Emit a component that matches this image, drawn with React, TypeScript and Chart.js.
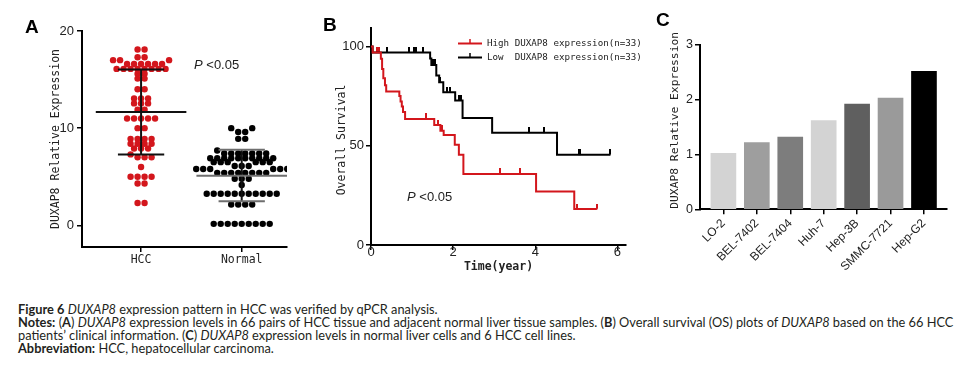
import React, { useEffect, useRef } from 'react';
import { Chart, registerables } from 'chart.js';

Chart.register(...registerables);

// ---------- Panel A data ----------
const groupNames = ['HCC', 'Normal'];
const hccValues = [
  2.3, 2.3, 4.3, 4.3, 5.0, 5.0, 5.0, 5.0, 6.0, 7.0, 7.0, 7.0, 7.3, 7.9, 7.9, 7.9,
  8.4, 8.4, 8.4, 8.4, 8.9, 8.9, 8.9, 8.9, 10.0, 10.0, 11.0, 11.0, 11.0, 11.0, 11.0,
  11.9, 11.9, 12.55, 12.55, 12.55, 13.05, 13.05, 13.05, 14.0, 14.0, 15.1, 15.1,
  15.6, 15.6, 16.1, 16.1, 16.1, 16.1, 16.1, 16.1, 16.1, 16.1,
  16.6, 16.6, 16.6, 16.6, 16.6, 16.6, 17.0, 17.0, 17.0, 17.3, 17.3, 18.1, 18.1,
];
const normalValues = [
  0.15, 0.15, 0.15, 0.15, 0.15, 0.15, 0.15, 0.15, 0.15,
  2.15, 2.15, 2.15, 2.15,
  3.25, 3.25, 3.25, 3.25, 3.25, 3.25, 3.25, 3.25, 3.25, 3.25, 3.25,
  4.15, 4.8, 4.8, 4.8,
  5.4, 5.4, 5.4, 5.4, 5.4, 5.4, 5.4, 5.4,
  5.8, 5.8, 5.8, 5.8, 5.8, 5.8,
  6.1, 6.1, 6.1, 6.5, 6.5, 6.5, 6.5, 6.5, 6.5,
  6.9, 6.9, 6.9, 6.9, 6.9, 6.9, 6.9, 6.9, 6.9, 6.9,
  7.4, 7.4, 7.4, 7.4, 7.4, 7.4, 7.4, 7.7,
  8.9, 8.9, 9.6, 9.6, 10.0, 10.0,
];
const groupMeans = [11.66, 5.1];
const groupSdHigh = [16.05, 7.78];
const groupSdLow = [7.3, 2.47];

// ---------- Panel B data ----------
const highTimes = [0, 0.04, 0.24, 0.27, 0.30, 0.34, 0.37, 0.69, 0.72, 0.75, 0.78, 0.83, 1.54, 1.69, 1.77, 2.04, 2.14, 2.25, 4.02, 4.95, 5.50];
const highSurvival = [100, 96.9, 93.8, 88.7, 84.0, 80.5, 77.3, 75.0, 72.3, 69.8, 67.0, 63.5, 60.4, 57.6, 55.4, 50.5, 45.5, 35.8, 26.9, 18.1, 18.1];
const highCensorTimes = [0.14, 0.20, 1.33, 1.64, 1.74, 3.13, 3.62, 5.02, 5.50];
const highCensorSurvival = [96.9, 96.9, 63.5, 60.4, 57.6, 35.8, 35.8, 18.1, 18.1];
const lowTimes = [0, 0.04, 1.44, 1.47, 1.59, 1.66, 1.76, 2.05, 2.23, 2.95, 4.53, 5.83];
const lowSurvival = [100, 97.0, 93.9, 90.7, 85.4, 82.0, 77.0, 72.8, 64.0, 56.6, 45.5, 45.5];
const lowCensorTimes = [0.38, 0.93, 1.05, 1.10, 1.27, 1.52, 1.55, 1.69, 1.86, 1.92, 2.14, 2.19, 3.84, 4.22, 5.06, 5.10, 5.83];
const lowCensorSurvival = [97, 97, 97, 97, 97, 90.7, 90.7, 82.0, 77.0, 77.0, 72.8, 72.8, 56.6, 56.6, 45.5, 45.5, 45.5];
const survivalLabels = ['High DUXAP8 expression(n=33)', 'Low  DUXAP8 expression(n=33)'];
const survivalTicksX = [0, 2, 4, 6];
const survivalTicksY = [0, 50, 100];

// ---------- Panel C data ----------
const cellLines = ['LO-2', 'BEL-7402', 'BEL-7404', 'Huh-7', 'Hep-3B', 'SMMC-7721', 'Hep-G2'];
const cellExpression = [1.02, 1.22, 1.32, 1.62, 1.92, 2.03, 2.52];
const cellTicksY = [0, 1, 2, 3];

// ---------- styles ----------
const MONO = '"DejaVu Sans Mono", monospace';
const SANS = '"Liberation Sans", Arial, sans-serif';
const RED = '#d3161c';
const barColors = ['#d3d3d3', '#9e9e9e', '#7d7d7d', '#d3d3d3', '#5f5f5f', '#9a9a9a', '#000000'];

function swarmSlots(values: number[], binSize: number): number[] {
  const idx = values.map((_, i) => i).sort((a, b) => values[a] - values[b]);
  const out = new Array(values.length).fill(0);
  let i = 0;
  while (i < idx.length) {
    const start = values[idx[i]];
    let j = i;
    while (j < idx.length && values[idx[j]] - start <= binSize + 1e-9) j++;
    const n = j - i;
    const order: number[] = [];
    if (n % 2 === 1) {
      order.push(0);
      for (let k = 1; order.length < n; k++) { order.push(k); if (order.length < n) order.push(-k); }
    } else {
      for (let k = 0; order.length < n; k++) { order.push(k + 0.5); order.push(-(k + 0.5)); }
    }
    for (let m = 0; m < n; m++) out[idx[i + m]] = order[m];
    i = j;
  }
  return out;
}

function axisStyle() {
  return {
    border: { display: true, color: '#000', width: 2 },
    grid: { display: true, drawOnChartArea: false, drawTicks: true, tickLength: 5, color: '#000', lineWidth: 1.5, offset: false },
  };
}

function PanelA() {
  const ref = useRef<HTMLCanvasElement>(null);
  useEffect(() => {
    const seg = (pts: any[], color: string) => ({
      data: pts, showLine: true, borderColor: color, borderWidth: 2, pointRadius: 0, fill: false,
    });
    const datasets: any[] = [];
    [0, 1].forEach((g) => {
      const cx = g + 1;
      const hColor = g === 0 ? '#111' : '#6e6e6e';
      datasets.push(seg([{ x: cx - 0.45, y: groupMeans[g] }, { x: cx + 0.45, y: groupMeans[g] }], hColor));
      datasets.push(seg([{ x: cx - 0.23, y: groupSdHigh[g] }, { x: cx + 0.23, y: groupSdHigh[g] }], hColor));
      datasets.push(seg([{ x: cx - 0.23, y: groupSdLow[g] }, { x: cx + 0.23, y: groupSdLow[g] }], hColor));
      datasets.push(seg([{ x: cx, y: groupSdLow[g] }, { x: cx, y: groupSdHigh[g] }], '#111'));
    });
    datasets.push({ data: hccValues.map((v) => ({ x: 1, y: v })), backgroundColor: RED, pointRadius: 3.2, borderWidth: 0 });
    datasets.push({ data: normalValues.map((v) => ({ x: 2, y: v })), backgroundColor: '#000', pointRadius: 3.2, borderWidth: 0 });
    const ax = axisStyle();
    const chart = new Chart(ref.current!, {
      type: 'scatter',
      data: { datasets },
      options: {
        animation: false, responsive: false, maintainAspectRatio: false,
        layout: { padding: { left: 0, top: 31, right: 13, bottom: 0 } },
        plugins: { legend: { display: false }, tooltip: { enabled: false } },
        scales: {
          x: {
            type: 'linear', min: 0.413, max: 2.45, ...ax,
            afterBuildTicks: (s: any) => { s.ticks = [{ value: 1 }, { value: 2 }]; },
            afterFit: (s: any) => { s.height = 33; },
            ticks: { callback: (v: any) => groupNames[Math.round(v) - 1], font: { family: MONO, size: 11.5 }, color: '#222', padding: 1, maxRotation: 0 },
          },
          y: {
            type: 'linear', min: -2.23, max: 20, ...ax,
            afterBuildTicks: (s: any) => { s.ticks = [0, 10, 20].map((v) => ({ value: v })); },
            afterFit: (s: any) => { s.width = 82; },
            ticks: { font: { family: SANS, size: 13 }, color: '#222', padding: 3 },
            title: { display: true, text: 'DUXAP8 Relative Expression', font: { family: MONO, size: 11.5 }, color: '#222', padding: { top: 49, bottom: 0 } },
          },
        },
      } as any,
    });
    const xs: any = chart.scales.x;
    const ppu = xs.getPixelForValue(2) - xs.getPixelForValue(1);
    const k = 7.0 / ppu;
    const hOff = swarmSlots(hccValues, 0.45);
    const nOff = swarmSlots(normalValues, 0.45);
    chart.data.datasets[8].data = hccValues.map((v, i) => ({ x: 1 + hOff[i] * k, y: v })) as any;
    chart.data.datasets[9].data = normalValues.map((v, i) => ({ x: 2 + nOff[i] * k, y: v })) as any;
    chart.update();
    return () => chart.destroy();
  }, []);
  return <canvas ref={ref} width={300} height={280} style={{ position: 'absolute', left: 0, top: 0, display: 'block' }} />;
}

function tickImage(color: string) {
  const c = document.createElement('canvas');
  c.width = 2; c.height = 11;
  const g = c.getContext('2d')!;
  g.fillStyle = color;
  g.fillRect(0, 0, 2, 5.5);
  return c;
}

const kmLegend = {
  id: 'kmLegend',
  afterDraw(chart: any) {
    const ctx = chart.ctx;
    ctx.save();
    [0, 1].forEach((di, r) => {
      const ds = chart.data.datasets[di];
      const y = 43.5 + r * 14;
      const x0 = 148, x1 = 172;
      ctx.strokeStyle = ds.borderColor;
      ctx.lineWidth = 2;
      ctx.beginPath(); ctx.moveTo(x0, y); ctx.lineTo(x1, y); ctx.stroke();
      ctx.lineWidth = 1.5;
      ctx.beginPath(); ctx.moveTo((x0 + x1) / 2, y); ctx.lineTo((x0 + x1) / 2, y - 4.5); ctx.stroke();
      ctx.fillStyle = '#222';
      ctx.font = `9.2px ${MONO}`;
      ctx.textBaseline = 'middle';
      ctx.textAlign = 'left';
      ctx.fillText(ds.label, 177, y + 0.5);
    });
    ctx.restore();
  },
};

function PanelB() {
  const ref = useRef<HTMLCanvasElement>(null);
  useEffect(() => {
    const ax = axisStyle();
    const chart = new Chart(ref.current!, {
      type: 'line',
      data: {
        datasets: [
          { label: survivalLabels[0], data: highTimes.map((t, i) => ({ x: t, y: highSurvival[i] })), borderColor: RED, borderWidth: 2, stepped: 'before', pointRadius: 0, fill: false },
          { label: survivalLabels[1], data: lowTimes.map((t, i) => ({ x: t, y: lowSurvival[i] })), borderColor: '#000', borderWidth: 2, stepped: 'before', pointRadius: 0, fill: false },
          { label: 'hc', data: highCensorTimes.map((t, i) => ({ x: t, y: highCensorSurvival[i] })), showLine: false, pointStyle: tickImage(RED), pointRadius: 5, borderWidth: 0 },
          { label: 'lc', data: lowCensorTimes.map((t, i) => ({ x: t, y: lowCensorSurvival[i] })), showLine: false, pointStyle: tickImage('#000'), pointRadius: 5, borderWidth: 0 },
        ],
      },
      options: {
        animation: false, responsive: false, maintainAspectRatio: false,
        layout: { padding: { left: 0, top: 28, right: 24, bottom: 0 } },
        plugins: { legend: { display: false }, tooltip: { enabled: false } },
        scales: {
          x: {
            type: 'linear', min: 0, max: 6.21, ...ax,
            afterBuildTicks: (s: any) => { s.ticks = survivalTicksX.map((v) => ({ value: v })); },
            afterFit: (s: any) => { s.height = 35; },
            ticks: { font: { family: SANS, size: 13 }, color: '#222', padding: -5, maxRotation: 0 },
            title: { display: true, text: 'Time(year)', font: { family: MONO, size: 11.5, weight: 'bold' }, color: '#222', padding: { top: 0, bottom: 5.6 } },
          },
          y: {
            type: 'linear', min: 0, max: 109.3, ...ax,
            afterBuildTicks: (s: any) => { s.ticks = survivalTicksY.map((v) => ({ value: v })); },
            afterFit: (s: any) => { s.width = 61; },
            ticks: { font: { family: SANS, size: 13 }, color: '#222', padding: 2 },
            title: { display: true, text: 'Overall Survival ', font: { family: MONO, size: 11.5 }, color: '#222', padding: { top: 24.8, bottom: 0 } },
          },
        },
      } as any,
      plugins: [kmLegend],
    });
    return () => chart.destroy();
  }, []);
  return <canvas ref={ref} width={340} height={280} style={{ position: 'absolute', left: 310, top: 0, display: 'block' }} />;
}

function PanelC() {
  const ref = useRef<HTMLCanvasElement>(null);
  useEffect(() => {
    const ax = axisStyle();
    const chart = new Chart(ref.current!, {
      type: 'bar',
      data: {
        datasets: [
          { data: cellExpression.map((v, i) => ({ x: i, y: v })), backgroundColor: barColors, borderWidth: 0, barThickness: 25 },
        ],
      },
      options: {
        animation: false, responsive: false, maintainAspectRatio: false,
        layout: { padding: { left: 0, top: 45, right: 24.3, bottom: 0 } },
        plugins: { legend: { display: false }, tooltip: { enabled: false } },
        scales: {
          x: {
            type: 'linear', min: -0.7, max: 6.68, offset: false, ...ax,
            afterBuildTicks: (s: any) => { s.ticks = cellLines.map((_, i) => ({ value: i })); },
            afterFit: (s: any) => { s.height = 70.7; },
            ticks: { callback: (v: any) => cellLines[Math.round(v)], font: { family: SANS, size: 12 }, color: '#222', padding: 2, minRotation: 45, maxRotation: 45, autoSkip: false },
          },
          y: {
            type: 'linear', min: 0, max: 3, ...ax,
            afterBuildTicks: (s: any) => { s.ticks = cellTicksY.map((v) => ({ value: v })); },
            afterFit: (s: any) => { s.width = 50; },
            ticks: { font: { family: SANS, size: 12.5 }, color: '#222', padding: 2 },
            title: { display: true, text: '  DUXAP8 Relative Expression', font: { family: MONO, size: 11.3 }, color: '#222', padding: { top: 18.2, bottom: 0 } },
          },
        },
      } as any,
    });
    return () => chart.destroy();
  }, []);
  return <canvas ref={ref} width={321} height={280} style={{ position: 'absolute', left: 650, top: 0, display: 'block' }} />;
}

const letterStyle: React.CSSProperties = {
  position: 'absolute', fontFamily: SANS, fontWeight: 700, fontSize: 19, lineHeight: '19px', color: '#000',
};
const pStyle: React.CSSProperties = {
  position: 'absolute', fontFamily: SANS, fontSize: 13, lineHeight: '14px', color: '#222', whiteSpace: 'nowrap',
};
const capLine: React.CSSProperties = {
  position: 'absolute', left: 18, fontFamily: 'Lato, "Open Sans", sans-serif', fontSize: 12.8, lineHeight: '13px', color: '#231f20', whiteSpace: 'nowrap',
};

export default function App() {
  return (
    <div style={{ position: 'absolute', left: 0, top: 0, width: 971, height: 373, background: '#fff', overflow: 'hidden' }}>
      <PanelA />
      <PanelB />
      <PanelC />
      <div style={{ ...letterStyle, left: 25, top: 17 }}>A</div>
      <div style={{ ...letterStyle, left: 323, top: 15 }}>B</div>
      <div style={{ ...letterStyle, left: 656, top: 10 }}>C</div>
      <div style={{ ...pStyle, left: 194, top: 58 }}><i>P</i> &lt;0.05</div>
      <div style={{ ...pStyle, left: 407, top: 190 }}><i>P</i> &lt;0.05</div>
      <div style={{ ...capLine, top: 303 }}><b>Figure 6</b> <i>DUXAP8</i> expression pattern in HCC was verified by qPCR analysis.</div>
      <div style={{ ...capLine, top: 316 }}><b>Notes:</b> (<b>A</b>) <i>DUXAP8</i> expression levels in 66 pairs of HCC tissue and adjacent normal liver tissue samples. (<b>B</b>) Overall survival (OS) plots of <i>DUXAP8</i> based on the 66 HCC</div>
      <div style={{ ...capLine, top: 329 }}>patients’ clinical information. (<b>C</b>) <i>DUXAP8</i> expression levels in normal liver cells and 6 HCC cell lines.</div>
      <div style={{ ...capLine, top: 342 }}><b>Abbreviation:</b> HCC, hepatocellular carcinoma.</div>
    </div>
  );
}
